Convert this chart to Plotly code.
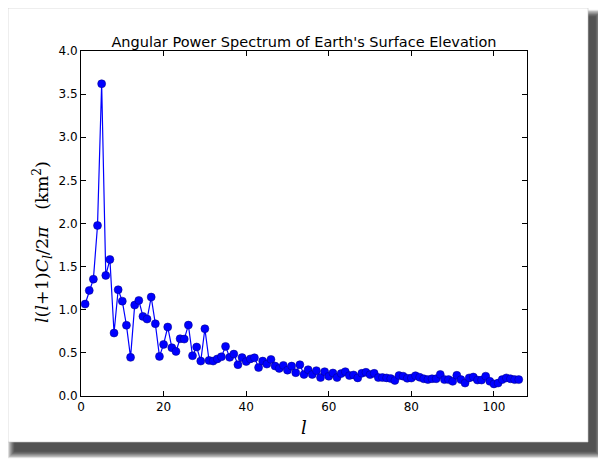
import plotly.graph_objects as go

# ---- data ----
degree_l = list(range(1, 107))
power = [
    1.066, 1.224, 1.355, 1.977, 3.62, 1.398, 1.583, 0.73, 1.232, 1.10,
    0.82, 0.448, 1.054, 1.108, 0.923, 0.892, 1.147, 0.838, 0.459, 0.598,
    0.80, 0.56, 0.517, 0.664, 0.66, 0.822, 0.467, 0.568, 0.405, 0.78,
    0.413, 0.405, 0.43, 0.455, 0.575, 0.448, 0.486, 0.363, 0.445, 0.40,
    0.43, 0.443, 0.33, 0.405, 0.37, 0.424, 0.347, 0.32, 0.355, 0.30,
    0.347, 0.27, 0.363, 0.25, 0.305, 0.25, 0.294, 0.214, 0.282, 0.229,
    0.267, 0.214, 0.26, 0.282, 0.237, 0.244, 0.21, 0.263, 0.275, 0.248,
    0.263, 0.214, 0.214, 0.21, 0.202, 0.18, 0.237, 0.23, 0.205, 0.208,
    0.235, 0.217, 0.20, 0.19, 0.20, 0.20, 0.25, 0.19, 0.19, 0.17,
    0.24, 0.19, 0.15, 0.21, 0.22, 0.185, 0.185, 0.23, 0.17, 0.14,
    0.15, 0.19, 0.21, 0.20, 0.19, 0.19,
]
x_ticks = [0, 20, 40, 60, 80, 100]
y_ticks = [0.0, 0.5, 1.0, 1.5, 2.0, 2.5, 3.0, 3.5, 4.0]
title_text = "Angular Power Spectrum of Earth's Surface Elevation"
y_label = "<i>l</i>(<i>l</i>+1)<i>C<sub>l</sub></i>/2<i>π</i>   (km<sup>2</sup>)"
x_label = "<i>l</i>"

# ---- layout geometry (page has an 8px body margin) ----
OFF = 8
W, H = 606 - OFF, 462 - OFF
ML, MR, MT, MB = 73, 79, 43, 66
PW, PH = W - ML - MR, H - MT - MB


def px(x):
    # x given in screenshot pixels
    return (x - OFF - ML) / PW


def py(y):
    return (H - MB - (y - OFF)) / PH


shapes = []
# drop shadow (stacked translucent rects)
card = (8, 8, 588, 442)
off_x, off_y, blur = 7, 9, 12
for k in range(blur):
    e = blur - k
    shapes.append(dict(
        type="rect", xref="paper", yref="paper", layer="below",
        x0=px(card[0] + off_x - e * 0.6), x1=px(card[2] + off_x + e * 0.6),
        y0=py(card[3] + off_y + e * 0.6), y1=py(card[1] + off_y - e * 0.6),
        fillcolor="rgba(0,0,0,0.085)", line=dict(width=0)))
# white card
shapes.append(dict(
    type="rect", xref="paper", yref="paper", layer="below",
    x0=px(card[0]), x1=px(card[2]), y0=py(card[3]), y1=py(card[1]),
    fillcolor="white", line=dict(color="rgba(200,200,200,0.6)", width=1)))

fig = go.Figure()
fig.add_trace(go.Scatter(
    x=degree_l, y=power, mode="lines+markers",
    line=dict(color="#0000ff", width=1.2),
    marker=dict(color="#0000ff", size=8, line=dict(color="#000080", width=0.5)),
    showlegend=False,
))

axis_common = dict(
    showgrid=False, zeroline=False, showline=True, linecolor="black",
    linewidth=1, mirror="ticks", ticks="inside", ticklen=5,
    tickcolor="black", tickwidth=1,
    tickfont=dict(family="DejaVu Sans", size=12, color="black"),
)

fig.update_layout(
    width=W, height=H,
    margin=dict(l=ML, r=MR, t=MT, b=MB, autoexpand=False),
    paper_bgcolor="white", plot_bgcolor="rgba(0,0,0,0)",
    shapes=shapes,
    title=dict(text=title_text, x=0.5, xref="paper", xanchor="center",
               y=1, yref="paper", yanchor="bottom", pad=dict(b=4),
               font=dict(family="DejaVu Sans", size=14.5, color="black")),
    xaxis=dict(range=[0, 108], tickvals=x_ticks,
               title=dict(text=x_label, standoff=7,
                          font=dict(family="DejaVu Serif", size=18, color="black")),
               **axis_common),
    yaxis=dict(range=[0, 4.0], tickvals=y_ticks, tickformat=".1f",
               **axis_common),
    annotations=[dict(
        text=y_label, textangle=-90, showarrow=False,
        xref="paper", yref="paper", x=px(42), y=py(242),
        xanchor="center", yanchor="middle",
        font=dict(family="DejaVu Serif", size=17.5, color="black"))],
)

fig.write_html("out.html")
